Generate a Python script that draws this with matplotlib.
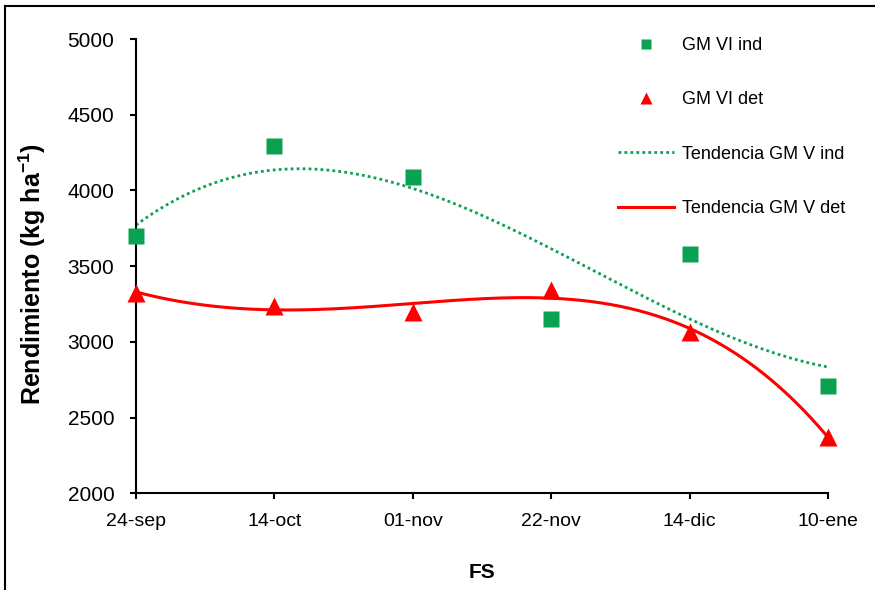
import numpy as np
import matplotlib
matplotlib.use("Agg")
import matplotlib.pyplot as plt
from matplotlib.lines import Line2D

categories = ["24-sep", "14-oct", "01-nov", "22-nov", "14-dic", "10-ene"]
gmvi_ind = [3700, 4295, 4086, 3150, 3580, 2709]
gmvi_det = [3324, 3238, 3200, 3342, 3062, 2375]
yticks = [2000, 2500, 3000, 3500, 4000, 4500, 5000]

GREEN = "#0BA153"
RED = "#FF0000"

plt.rcParams["font.family"] = ["Liberation Sans", "DejaVu Sans"]
plt.rcParams["mathtext.fontset"] = "custom"
plt.rcParams["mathtext.rm"] = "Liberation Sans"
plt.rcParams["mathtext.bf"] = "Liberation Sans:bold"

W, H = 875, 590
fig = plt.figure(figsize=(W / 100, H / 100), dpi=100)
ax = fig.add_axes([136 / W, 1 - 493.3 / H, (828 - 136) / W, (493.3 - 39) / H])

x = np.arange(1, len(categories) + 1)

# Trend lines (polynomial fits like Excel)
xs = np.linspace(1, 6, 300)
p_ind = np.polyfit(x, gmvi_ind, 3)
p_det = np.polyfit(x, gmvi_det, 4)
ax.plot(xs, np.polyval(p_ind, xs), color=GREEN, lw=2.0, linestyle=(0, (1, 1.15)),
        label="Tendencia GM V ind", zorder=2)
ax.plot(xs, np.polyval(p_det, xs), color=RED, lw=2.2, label="Tendencia GM V det", zorder=2)

ax.plot(x, gmvi_ind, "s", color=GREEN, ms=11.5, mec="none", clip_on=False,
        label="GM VI ind", zorder=3)
ax.plot(x, gmvi_det, "^", color=RED, ms=12.5, mec="none", clip_on=False,
        label="GM VI det", zorder=3)

ax.set_xlim(1, 6)
ax.set_ylim(2000, 5000)
ax.set_yticks(yticks)
ax.set_xticks(x)
ax.set_xticklabels(categories, fontsize=14)
for t in ax.get_yticklabels():
    t.set_fontsize(15)

for s in ["top", "right"]:
    ax.spines[s].set_visible(False)
for s in ["left", "bottom"]:
    ax.spines[s].set_linewidth(1.5)
    ax.spines[s].set_color("black")
ax.tick_params(axis="both", direction="out", length=4.5, width=1.5, colors="black")
ax.tick_params(axis="y", pad=11)
ax.tick_params(axis="x", pad=9.5)

fig.text(32 / W, 1 - 274 / H, r"Rendimiento (kg ha$^{\mathbf{-1}}$)", rotation=90,
         ha="center", va="center", fontsize=18, fontweight="bold")
fig.text(482 / W, 1 - 573 / H, "FS", ha="center", va="center", fontsize=15,
         fontweight="bold")

handles, labels = ax.get_legend_handles_labels()
order = [2, 3, 0, 1]
leg = fig.legend([handles[i] for i in order], [labels[i] for i in order],
                 loc="upper left", bbox_to_anchor=(618 / W, 1 - 37 / H),
                 frameon=False, fontsize=13, labelspacing=2.07, handlelength=3.1,
                 handletextpad=0.45, borderpad=0, borderaxespad=0, numpoints=1,
                 markerscale=0.65)

# figure border lines (top and left)
fig.add_artist(Line2D([5 / W, 1], [1 - 6 / H, 1 - 6 / H], transform=fig.transFigure,
                      color="black", lw=1.5))
fig.add_artist(Line2D([5 / W, 5 / W], [0, 1 - 6 / H], transform=fig.transFigure,
                      color="black", lw=1.5))

fig.savefig("out.png", dpi=100)
